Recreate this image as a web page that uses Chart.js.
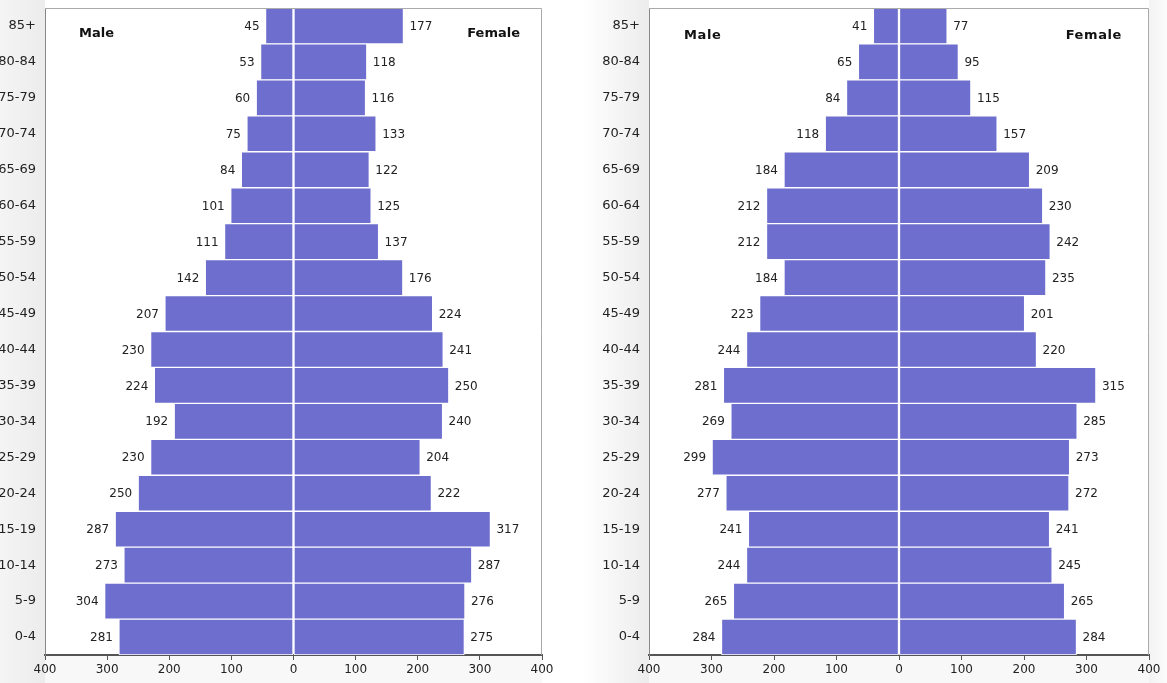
<!DOCTYPE html>
<html>
<head>
<meta charset="utf-8">
<script src="https://cdn.jsdelivr.net/npm/chart.js@4"></script>
<style>
  html, body { margin: 0; padding: 0; background: #fff; overflow: hidden; }
  .panel { position: absolute; top: 0; height: 683px; }
  #p1 { left: 0; width: 583px; }
  #p2 { left: 583px; width: 584px; }
</style>
</head>
<body>
<div class="panel" id="p1"><canvas id="chart1"></canvas></div>
<div class="panel" id="p2"><canvas id="chart2"></canvas></div>
<script>
// age groups, top row first
const ageGroups = ["85+", "80-84", "75-79", "70-74", "65-69", "60-64", "55-59", "50-54", "45-49",
    "40-44", "35-39", "30-34", "25-29", "20-24", "15-19", "10-14", "5-9", "0-4"];

// left pyramid
const maleA = [45, 53, 60, 75, 84, 101, 111, 142, 207, 230, 224, 192, 230, 250, 287, 273, 304, 281];
const femaleA = [177, 118, 116, 133, 122, 125, 137, 176, 224, 241, 250, 240, 204, 222, 317, 287, 276, 275];

// right pyramid
const maleB = [41, 65, 84, 118, 184, 212, 212, 184, 223, 244, 281, 269, 299, 277, 241, 244, 265, 284];
const femaleB = [77, 95, 115, 157, 209, 230, 242, 235, 201, 220, 315, 285, 273, 272, 241, 245, 265, 284];

const xTicks = [-400, -300, -200, -100, 0, 100, 200, 300, 400];

const BAR = "#6e6ecf";
const FONT = "'DejaVu Sans', Verdana, sans-serif";

// panel shading + frame + male/female captions + value labels
const pyramidDeco = {
    id: "pyramidDeco",
    beforeDraw(chart, args, opts) {
        const { ctx, chartArea: a, width, height } = chart;
        ctx.save();
        const g = ctx.createLinearGradient(opts.shadeFrom, 0, a.left, 0);
        g.addColorStop(0, "#ffffff");
        g.addColorStop(1, "#ececec");
        ctx.fillStyle = g;
        ctx.fillRect(0, 0, a.left, height);
        if (opts.rightShade) {
            const g2 = ctx.createLinearGradient(a.right, 0, width, 0);
            g2.addColorStop(0, "#f3f3f3");
            g2.addColorStop(1, "#fbfbfb");
            ctx.fillStyle = g2;
            ctx.fillRect(a.right, 0, width - a.right, height);
        }
        ctx.fillStyle = "#f8f8f8";
        ctx.fillRect(a.left, a.bottom, a.right - a.left, height - a.bottom);
        ctx.fillStyle = "#ffffff";
        ctx.fillRect(a.left, a.top, a.right - a.left, a.bottom - a.top);
        ctx.restore();
    },
    afterDatasetsDraw(chart, args, opts) {
        const { ctx, chartArea: a } = chart;
        ctx.save();
        // light frame on top and right
        ctx.strokeStyle = "#aaaaaa";
        ctx.lineWidth = 1;
        ctx.beginPath();
        ctx.moveTo(a.left, a.top + 0.5);
        ctx.lineTo(a.right - 0.5, a.top + 0.5);
        ctx.lineTo(a.right - 0.5, a.bottom);
        ctx.stroke();

        // value labels at the bar ends
        ctx.font = "12px " + FONT;
        ctx.fillStyle = "#222";
        ctx.textBaseline = "middle";
        chart.data.datasets.forEach((ds, i) => {
            const meta = chart.getDatasetMeta(i);
            meta.data.forEach((bar, j) => {
                const v = ds.data[j];
                if (v < 0) {
                    ctx.textAlign = "right";
                    ctx.fillText(String(-v), bar.x - 6, bar.y + 1);
                } else {
                    ctx.textAlign = "left";
                    ctx.fillText(String(v), bar.x + 6, bar.y + 1);
                }
            });
        });

        // Male / Female captions
        ctx.font = "bold 13px " + FONT;
        ctx.fillStyle = "#111";
        if (opts.spaced) ctx.letterSpacing = "0.6px";
        ctx.textAlign = "left";
        ctx.fillText("Male", a.left + opts.maleDx, a.top + opts.dy);
        ctx.textAlign = "right";
        ctx.fillText("Female", a.right - opts.femaleDx, a.top + opts.dy);
        ctx.restore();
    }
};

function makePyramid(id, male, female, yWidth, padRight, deco) {
    return new Chart(id, {
        type: "bar",
        data: {
            labels: ageGroups,
            datasets: [{
                label: "Male",
                data: male.map(v => -v),
                backgroundColor: BAR,
                borderColor: "#ffffff",
                borderWidth: 1,
                borderSkipped: false,
                barPercentage: 1,
                categoryPercentage: 1
            }, {
                label: "Female",
                data: female,
                backgroundColor: BAR,
                borderColor: "#ffffff",
                borderWidth: 1,
                borderSkipped: false,
                barPercentage: 1,
                categoryPercentage: 1
            }]
        },
        options: {
            indexAxis: "y",
            responsive: true,
            maintainAspectRatio: false,
            animation: false,
            layout: { padding: { top: 8, right: padRight, left: 0, bottom: 0 } },
            plugins: {
                legend: { display: false },
                tooltip: { enabled: false },
                pyramidDeco: deco
            },
            scales: {
                x: {
                    stacked: true,
                    min: -400,
                    max: 400,
                    afterBuildTicks: s => { s.ticks = xTicks.map(v => ({ value: v })); },
                    afterFit: s => { s.height = 28; s.paddingLeft = 0; s.paddingRight = 0; },
                    grid: {
                        drawOnChartArea: false,
                        drawTicks: true,
                        tickLength: 5,
                        color: "#555"
                    },
                    border: { display: true, color: "#555", width: 2 },
                    ticks: {
                        padding: 3,
                        color: "#222",
                        font: { family: FONT, size: 12 },
                        maxRotation: 0,
                        callback: v => Math.abs(v)
                    }
                },
                y: {
                    stacked: true,
                    afterFit: s => { s.width = yWidth; s.paddingTop = 0; s.paddingBottom = 0; },
                    grid: { display: false, drawTicks: false },
                    border: { display: true, color: "#888", width: 1 },
                    ticks: {
                        padding: 9,
                        color: "#222",
                        font: { family: FONT, size: 13 }
                    }
                }
            }
        },
        plugins: [pyramidDeco]
    });
}

makePyramid("chart1", maleA, femaleA, 45, 41,
    { maleDx: 34, femaleDx: 22, dy: 26, spaced: false, shadeFrom: -60, rightShade: false });
makePyramid("chart2", maleB, femaleB, 66, 18,
    { maleDx: 35, femaleDx: 27, dy: 28, spaced: true, shadeFrom: 0, rightShade: true });
</script>
</body>
</html>
